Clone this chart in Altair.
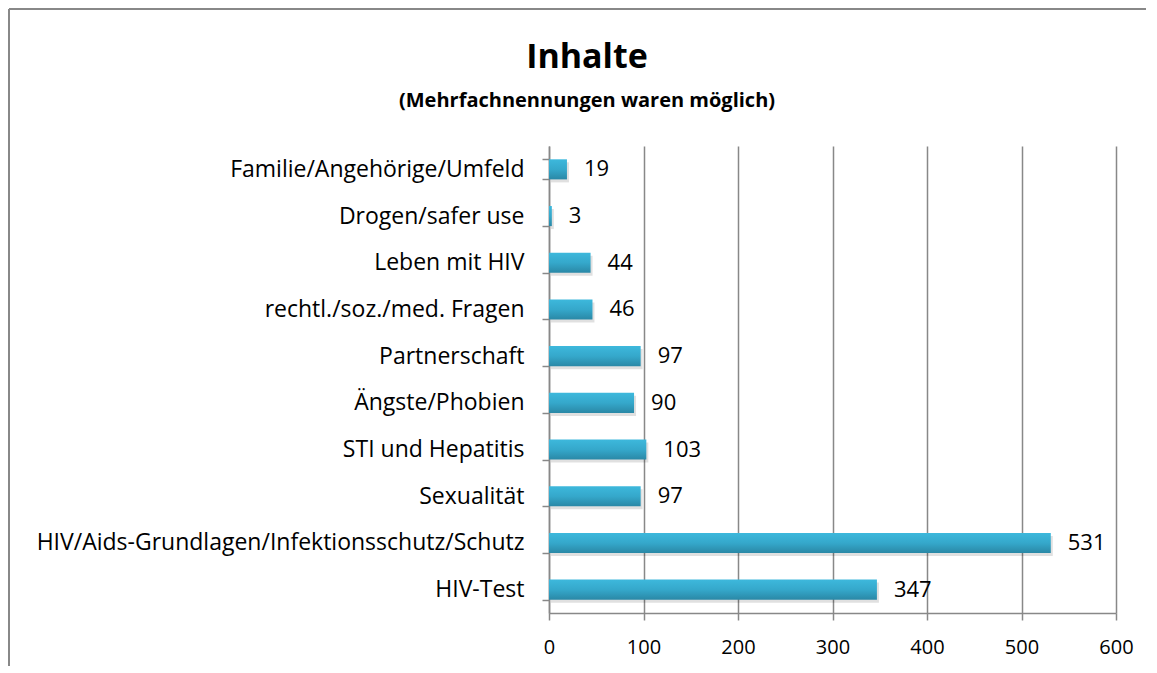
import altair as alt
import pandas as pd

categories = [
    "Familie/Angehörige/Umfeld",
    "Drogen/safer use",
    "Leben mit HIV",
    "rechtl./soz./med. Fragen",
    "Partnerschaft",
    "Ängste/Phobien",
    "STI und Hepatitis",
    "Sexualität",
    "HIV/Aids-Grundlagen/Infektionsschutz/Schutz",
    "HIV-Test",
]
values = [19, 3, 44, 46, 97, 90, 103, 97, 531, 347]
x_ticks = [0, 100, 200, 300, 400, 500, 600]
title_text = "Inhalte"
subtitle_text = "(Mehrfachnennungen waren möglich)"

df = pd.DataFrame({"Inhalt": categories, "Anzahl": values})

FONT = "Open Sans"
GRAY = "#888888"

W, H = 567, 467

y_enc = alt.Y(
    "Inhalt:N",
    sort=categories,
    title=None,
    scale=alt.Scale(paddingInner=0.57, paddingOuter=0.285),
    axis=alt.Axis(
        tickBand="extent",
        tickSize=7,
        tickColor=GRAY,
        tickWidth=1.5,
        domainColor=GRAY,
        domainWidth=1.5,
        labelFontSize=23,
        labelFont=FONT,
        labelColor="#000000",
        labelPadding=18,
        labelLimit=700,
        grid=False,
    ),
)
x_enc = alt.X(
    "Anzahl:Q",
    title=None,
    scale=alt.Scale(domain=[0, 600], nice=False),
    axis=alt.Axis(
        values=x_ticks,
        tickSize=7,
        tickColor=GRAY,
        tickWidth=1.5,
        domainColor=GRAY,
        domainWidth=1.5,
        gridColor=GRAY,
        gridWidth=1.5,
        labelFontSize=20,
        labelFont=FONT,
        labelColor="#000000",
        labelPadding=17,
        labelFlush=False,
    ),
)

base = alt.Chart(df)
one = "datum.Anzahl == 19"

frame_top = base.mark_rule(stroke=GRAY, strokeWidth=2, clip=False).encode(
    x=alt.value(-540), x2=alt.value(597), y=alt.value(-137), y2=alt.value(-137)
).transform_filter(one)

frame_left = base.mark_rule(stroke=GRAY, strokeWidth=2, clip=False).encode(
    x=alt.value(-540), x2=alt.value(-540), y=alt.value(-137), y2=alt.value(520)
).transform_filter(one)

shadow = base.mark_bar(
    color="#000000", opacity=0.12, xOffset=2, x2Offset=3, yOffset=3, y2Offset=3
).encode(y=y_enc, x=x_enc)

bars = base.mark_bar(
    color=alt.Gradient(
        gradient="linear",
        stops=[
            alt.GradientStop(color="#3db8dc", offset=0),
            alt.GradientStop(color="#35a8cb", offset=0.5),
            alt.GradientStop(color="#2a88a6", offset=1),
        ],
        x1=0, x2=0, y1=0, y2=1,
    )
).encode(y=y_enc, x=x_enc)

labels = base.mark_text(
    align="left", baseline="middle", dx=17, fontSize=22, font=FONT, color="#000000"
).encode(y=y_enc, x=x_enc, text="Anzahl:Q")

title = base.mark_text(
    fontSize=34, fontWeight="bold", font=FONT, color="#000000", baseline="middle", align="center"
).encode(
    x=alt.value(38), y=alt.value(-88), text=alt.value(title_text)
).transform_filter(one)

subtitle = base.mark_text(
    fontSize=20, fontWeight="bold", font=FONT, color="#000000", baseline="middle", align="center"
).encode(
    x=alt.value(38), y=alt.value(-45), text=alt.value(subtitle_text)
).transform_filter(one)

chart = alt.layer(frame_top, frame_left, shadow, bars, labels, title, subtitle).properties(
    width=W, height=H, padding=0, background="#ffffff"
).configure_view(stroke=None)

chart.save("out.html", embed_options={"renderer": "svg", "actions": False})
